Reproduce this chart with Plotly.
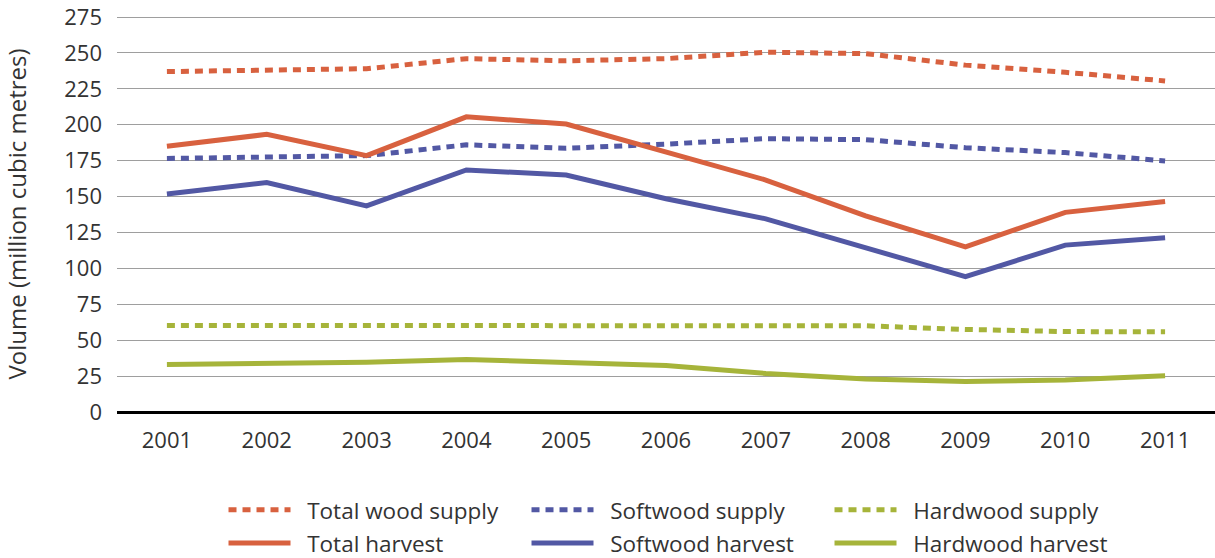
import plotly.graph_objects as go

years = ["2001", "2002", "2003", "2004", "2005", "2006", "2007", "2008", "2009", "2010", "2011"]

total_wood_supply = [237, 237.7, 239, 246, 244.5, 246, 250.5, 249.5, 241.5, 236.5, 230.5]
softwood_supply = [176.5, 177.3, 178.5, 186, 183.6, 186.5, 190.3, 189.6, 184, 180.6, 174.8]
hardwood_supply = [60.3, 60.2, 60.2, 60.3, 60.5, 60.2, 60.3, 60, 57.5, 56, 55.8]
total_harvest = [185, 193.3, 178.5, 205.5, 200.5, 181, 161.5, 136.5, 115, 139, 146.5]
softwood_harvest = [151.8, 159.8, 143.5, 168.5, 165, 148.5, 134.5, 114, 94.2, 116.2, 121.3]
hardwood_harvest = [33, 33.6, 34.7, 36.6, 34.8, 32.3, 26.8, 23, 21.3, 22.3, 25.3]

y_ticks = [0, 25, 50, 75, 100, 125, 150, 175, 200, 225, 250, 275]

RED = "#D8613F"
BLUE = "#5258A4"
GREEN = "#A6B43A"
TEXT = "#333333"
FONT = "Open Sans"
FS = 22
FS_LEG = 22.5
FS_TITLE = 24

series = [
    ("Total wood supply", total_wood_supply, RED, "dot", "legend"),
    ("Softwood supply", softwood_supply, BLUE, "dot", "legend"),
    ("Hardwood supply", hardwood_supply, GREEN, "dot", "legend"),
    ("Total harvest", total_harvest, RED, "solid", "legend2"),
    ("Softwood harvest", softwood_harvest, BLUE, "solid", "legend2"),
    ("Hardwood harvest", hardwood_harvest, GREEN, "solid", "legend2"),
]

fig = go.Figure()
for name, vals, color, style, leg in series:
    dash = "8px,6px" if style == "dot" else "solid"
    fig.add_trace(go.Scatter(
        x=years, y=vals, name="\u00a0\u00a0" + name, mode="lines", legend=leg,
        line=dict(color=color, width=5, dash=dash),
    ))

legend_common = dict(
    orientation="h", x=0.097, xanchor="left", yanchor="middle",
    entrywidth=226, entrywidthmode="pixels", itemwidth=62,
    font=dict(family=FONT, size=FS_LEG, color=TEXT),
    traceorder="normal", bgcolor="rgba(0,0,0,0)",
)

fig.update_layout(
    width=1215, height=558,
    margin=dict(l=117, r=0, t=16, b=146, autoexpand=False),
    paper_bgcolor="white", plot_bgcolor="white",
    font=dict(family=FONT, size=FS, color=TEXT),
    showlegend=True,
    legend=dict(legend_common, y=-0.248),
    legend2=dict(legend_common, y=-0.3316),
    xaxis=dict(
        type="category", range=[-0.5, 10.5], showgrid=False,
        ticks="", tickfont=dict(size=FS, color=TEXT), ticklabelstandoff=13,
        showline=False, zeroline=False, automargin=False,
    ),
    yaxis=dict(
        range=[0, 275.7], tickvals=y_ticks, ticktext=[str(v) for v in y_ticks],
        showgrid=True, gridcolor="#9e9e9e", gridwidth=1,
        zeroline=True, zerolinecolor="black", zerolinewidth=3,
        ticks="", ticklabelstandoff=14, tickfont=dict(size=FS, color=TEXT),
        ticklabeloverflow="allow", automargin=False,
        title=dict(text="Volume (million cubic metres)", font=dict(size=FS_TITLE, color=TEXT), standoff=36),
    ),
)

fig.write_html(
    "out.html",
    config={"displayModeBar": False},
    post_script="document.body.style.margin='0';document.body.style.overflow='hidden';",
)
